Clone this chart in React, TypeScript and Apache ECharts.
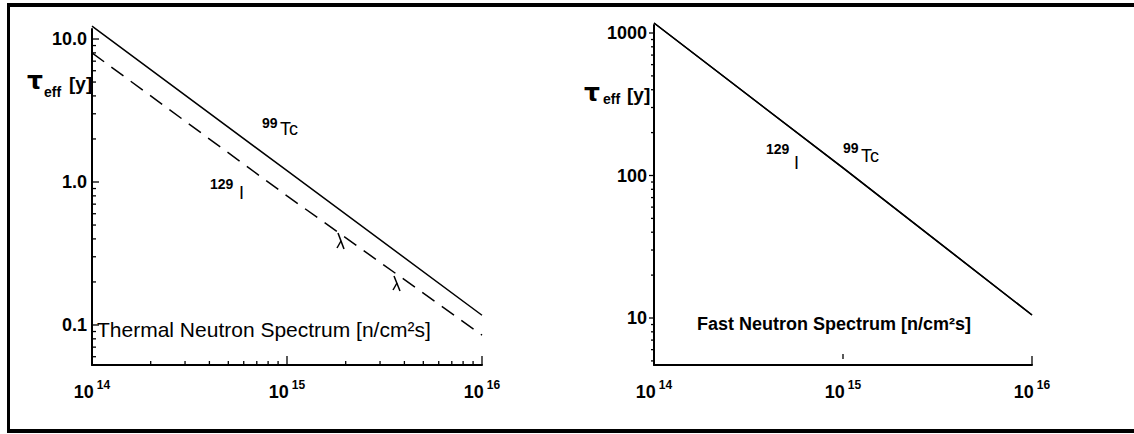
import React, { useEffect, useRef } from "react";
import * as echarts from "echarts";

const FONT = "Liberation Sans";

// neutron flux [n/cm^2 s] sample points
const flux = [1e14, 1e15, 1e16];
// thermal spectrum effective half-lives [y]
const thermalTc = [12.3, 1.2, 0.117];
const thermalI = [8.0, 0.8, 0.085];
// fast spectrum effective half-lives [y] (both curves coincide)
const fastTc = [1175, 113, 10.5];
const fastI = [1175, 113, 10.5];

// tick labels
const thermalYLabels: Record<string, string> = { "-1": "0.1", "0": "1.0", "1": "10.0" };
const fastYLabels: Record<string, string> = { "1": "10", "2": "100", "3": "1000" };
const minorMultipliers = [2, 3, 4, 5, 6, 7, 8, 9];

const thermalX = { min: 1e14, max: 1e16 };
const thermalY = { min: 0.0525, max: 11.75 };
const fastX = { min: 1e14, max: 1e16 };
const fastY = { min: 4.68, max: 1138 };

function minors(decades: number[], lo: number, hi: number) {
  const out: number[] = [];
  decades.forEach((d) => minorMultipliers.forEach((m) => {
    const v = d * m;
    if (v > lo && v < hi) out.push(v);
  }));
  return out;
}

function xTickSeries(idx: number, yMin: number, items: number[][]) {
  return {
    type: "custom",
    xAxisIndex: idx,
    yAxisIndex: idx,
    clip: false,
    silent: true,
    encode: { x: 0, y: 1 },
    data: items.map(([v, len, start]) => [v, yMin, len, start]),
    renderItem: (params: any, api: any) => {
      const p = api.coord([api.value(0), api.value(1)]);
      const len = api.value(2);
      const start = api.value(3);
      return {
        type: "line",
        shape: { x1: p[0], y1: p[1] - start, x2: p[0], y2: p[1] - start - len },
        style: { stroke: "#000", lineWidth: 1.3 },
      };
    },
  };
}

function yTickSeries(idx: number, xMin: number, items: number[][]) {
  return {
    type: "custom",
    xAxisIndex: idx,
    yAxisIndex: idx,
    clip: false,
    silent: true,
    encode: { x: 0, y: 1 },
    data: items.map(([v, len, start]) => [xMin, v, len, start]),
    renderItem: (params: any, api: any) => {
      const p = api.coord([api.value(0), api.value(1)]);
      const len = api.value(2);
      const start = api.value(3);
      return {
        type: "line",
        shape: { x1: p[0] + start, y1: p[1], x2: p[0] + start + len, y2: p[1] },
        style: { stroke: "#000", lineWidth: 1.3 },
      };
    },
  };
}

const xRich = {
  b: { fontSize: 18, fontWeight: "bold", fontFamily: FONT, color: "#000", lineHeight: 22, verticalAlign: "bottom" },
  s: { fontSize: 12, fontWeight: "bold", fontFamily: FONT, color: "#000", lineHeight: 12, verticalAlign: "top", padding: [0, 0, 0, 3] },
};

function xAxisCfg(idx: number, ext: { min: number; max: number }) {
  return {
    type: "log",
    logBase: 10,
    gridIndex: idx,
    min: ext.min,
    max: ext.max,
    axisLine: { show: true, lineStyle: { color: "#000", width: 2 } },
    axisTick: { show: false },
    splitLine: { show: false },
    minorTick: { show: false },
    axisLabel: {
      margin: 14,
      formatter: (v: number) => {
        const e = Math.round(Math.log10(v));
        return `{b|10}{s|${e}}`;
      },
      rich: xRich,
    },
  };
}

function yAxisCfg(idx: number, ext: { min: number; max: number }, labels: Record<string, string>, margin: number) {
  return {
    type: "log",
    logBase: 10,
    gridIndex: idx,
    min: ext.min,
    max: ext.max,
    axisLine: { show: true, lineStyle: { color: "#000", width: 2 } },
    axisTick: { show: false },
    splitLine: { show: false },
    minorTick: { show: false },
    axisLabel: {
      margin,
      showMinLabel: false,
      showMaxLabel: false,
      fontSize: 18,
      fontWeight: "bold",
      fontFamily: FONT,
      color: "#000",
      formatter: (v: number) => {
        const e = Math.log10(v);
        const r = Math.round(e);
        if (Math.abs(e - r) > 1e-6) return "";
        return labels[String(r)] ?? "";
      },
    },
  };
}

export default function App() {
  const ref = useRef<HTMLDivElement>(null);
  useEffect(() => {
    document.body.style.margin = "0";
    if (!ref.current) return;
    const chart = echarts.init(ref.current, undefined, { renderer: "svg" });

    const lineStyle = { color: "#000", width: 1.5 };
    const leftXTicks = [
      ...minors([1e14, 1e15], thermalX.min, thermalX.max).map((v) => [v, 4, 0]),
      [1e15, 9, 0],
      [1e16, 9, 0],
    ];
    const leftYTicks = [
      ...minors([0.01, 0.1, 1], thermalY.min, thermalY.max).map((v) => [v, 4, 0]),
      [0.1, 7, 0],
      [1, 7, 0],
      [10, 7, 0],
    ];
    const rightXTicks = [
      [1e15, 5, 6],
      [1e16, 9, 0],
    ];
    const rightYTicks = [
      ...minors([1, 10, 100], fastY.min, fastY.max).map((v) => [v, -4, 1]),
      [10, -6, 1],
      [100, -6, 1],
      [1000, -6, 1],
    ];

    const t = (x: number, y: number, text: string, fontSize: number, bold: boolean, family = FONT) => ({
      type: "text",
      x,
      y,
      silent: true,
      style: {
        text,
        fontSize,
        fontWeight: bold ? "bold" : "normal",
        fontFamily: family,
        fill: "#000",
        verticalAlign: "middle",
        align: "left",
      },
    });

    chart.setOption({
      animation: false,
      backgroundColor: "#fff",
      grid: [
        { left: 92, top: 29, width: 390, height: 336 },
        { left: 654, top: 25, width: 378, height: 340 },
      ],
      xAxis: [xAxisCfg(0, thermalX), xAxisCfg(1, fastX)],
      yAxis: [
        yAxisCfg(0, thermalY, thermalYLabels, 5),
        yAxisCfg(1, fastY, fastYLabels, 7),
      ],
      series: [
        {
          name: "99Tc thermal",
          type: "line",
          xAxisIndex: 0,
          yAxisIndex: 0,
          clip: false,
          showSymbol: false,
          lineStyle,
          data: flux.map((f, i) => [f, thermalTc[i]]),
        },
        {
          name: "129I thermal",
          type: "line",
          xAxisIndex: 0,
          yAxisIndex: 0,
          clip: false,
          showSymbol: false,
          lineStyle: { ...lineStyle, type: [15, 9] },
          data: flux.map((f, i) => [f, thermalI[i]]),
        },
        {
          name: "129I fast",
          type: "line",
          xAxisIndex: 1,
          yAxisIndex: 1,
          clip: false,
          showSymbol: false,
          lineStyle,
          data: flux.map((f, i) => [f, fastI[i]]),
        },
        {
          name: "99Tc fast",
          type: "line",
          xAxisIndex: 1,
          yAxisIndex: 1,
          clip: false,
          showSymbol: false,
          lineStyle,
          data: flux.map((f, i) => [f, fastTc[i]]),
        },
        xTickSeries(0, thermalY.min, leftXTicks),
        yTickSeries(0, thermalX.min, leftYTicks),
        xTickSeries(1, fastY.min, rightXTicks),
        yTickSeries(1, fastX.min, rightYTicks),
      ],
      graphic: [
        // page frame
        { type: "rect", shape: { x: 7, y: 3, width: 1127, height: 4 }, style: { fill: "#000" }, silent: true },
        { type: "rect", shape: { x: 7, y: 429, width: 1127, height: 4 }, style: { fill: "#000" }, silent: true },
        { type: "rect", shape: { x: 7, y: 3, width: 3, height: 430 }, style: { fill: "#000" }, silent: true },
        // scan marks on the dashed curve
        { type: "polyline", shape: { points: [[338, 233], [344, 249]] }, style: { stroke: "#000", lineWidth: 1.5, fill: "none" }, silent: true },
        { type: "polyline", shape: { points: [[341, 241], [337, 248]] }, style: { stroke: "#000", lineWidth: 1.5, fill: "none" }, silent: true },
        { type: "polyline", shape: { points: [[394, 276], [400, 291]] }, style: { stroke: "#000", lineWidth: 1.5, fill: "none" }, silent: true },
        { type: "polyline", shape: { points: [[397, 283], [393, 290]] }, style: { stroke: "#000", lineWidth: 1.5, fill: "none" }, silent: true },
        // axis titles (left)
        t(27, 80, "τ", 25, true, "DejaVu Sans"),
        t(44, 92, "eff", 14, true),
        t(69, 83, "[y]", 19, true),
        // axis titles (right)
        t(584, 92, "τ", 25, true, "DejaVu Sans"),
        t(603, 99, "eff", 14, true),
        t(627, 94, "[y]", 19, true),
        // nuclide labels (left)
        t(262, 123, "99", 14, true),
        t(280, 129, "Tc", 18, false),
        t(210, 184, "129", 14, true),
        t(239, 193, "I", 18, false),
        // nuclide labels (right)
        t(766, 149, "129", 14, true),
        t(794, 163, "I", 18, false),
        t(843, 148, "99", 14, true),
        t(861, 156, "Tc", 18, false),
        // spectrum labels
        t(97, 329, "Thermal Neutron Spectrum [n/cm²s]", 21, false),
        t(697, 324, "Fast Neutron Spectrum [n/cm²s]", 18, true),
      ],
    });
    return () => chart.dispose();
  }, []);
  return <div ref={ref} style={{ width: 1134, height: 434 }} />;
}
